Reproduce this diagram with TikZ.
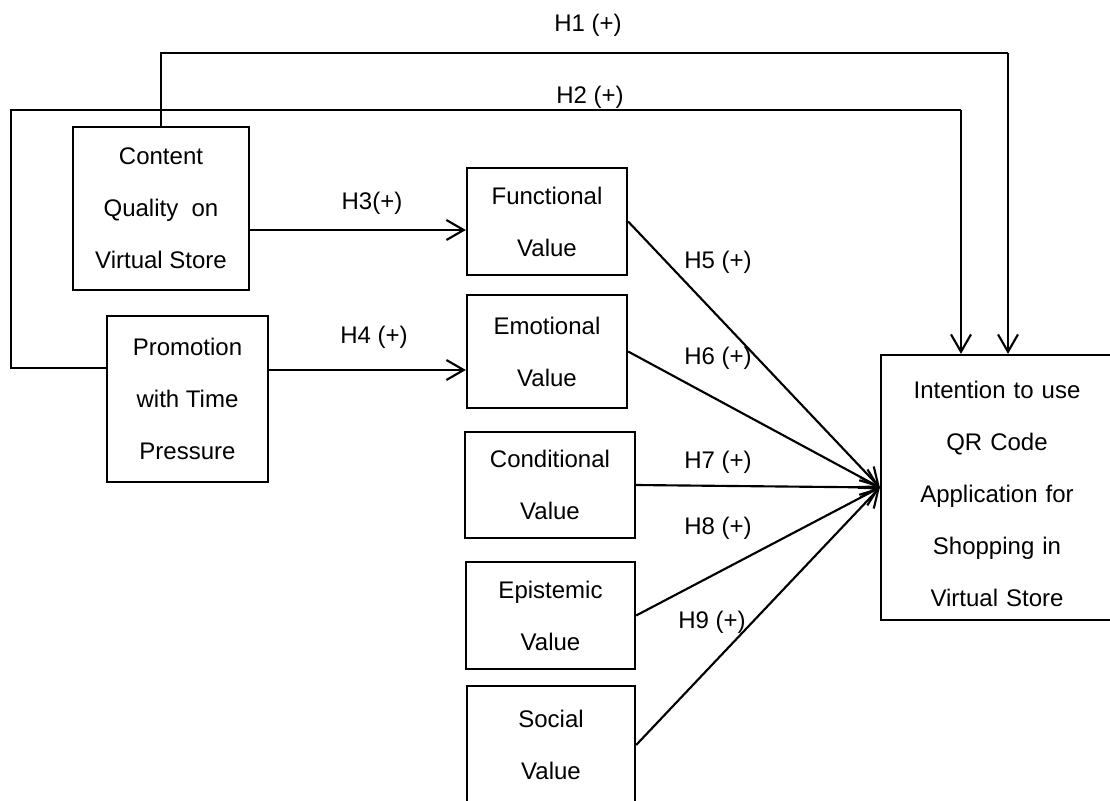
\documentclass[tikz,border=0pt]{standalone}
\usepackage{fontspec}
\setmainfont{Liberation Sans}
\usetikzlibrary{arrows.meta,calc}
\begin{document}
\begin{tikzpicture}[x=0.75pt,y=-0.75pt,
    box/.style={draw, line width=1.7pt, inner sep=0pt, align=center,
      font=\fontsize{18}{39}\selectfont,
      execute at begin node={\rule{0pt}{23pt}}},
    hyp/.style={font=\fontsize{18}{22}\selectfont, inner sep=0pt},
    arr/.style={line width=1.6pt, -{Straight Barb[length=13pt,width=15pt]}},
    link/.style={line width=1.2pt}]
  \useasboundingbox (0,0) rectangle (1110,800);
  \clip (0,0) rectangle (1110,800);
  % boxes
  \node[box, minimum width=132pt, minimum height=122.25pt] (cq) at (161,208.5) {Content\\Quality~~on\\Virtual Store};
  \node[box, minimum width=120.75pt, minimum height=124.5pt] (ptp) at (187.5,399) {Promotion\\with Time\\Pressure};
  \node[box, minimum width=120pt, minimum height=80.25pt] (fv) at (547,221.5) {Functional\\Value};
  \node[box, minimum width=120pt, minimum height=84.75pt] (ev) at (547,351.5) {Emotional\\Value};
  \node[box, minimum width=127.5pt, minimum height=79.5pt] (cv) at (550,485) {Conditional\\Value};
  \node[box, minimum width=126.75pt, minimum height=80.25pt] (epv) at (550.5,615.5) {Epistemic\\Value};
  \node[box, minimum width=126pt, minimum height=88.5pt] (sv) at (551,745) {Social\\Value};
  \node[box, minimum width=174pt, minimum height=198.75pt, text width=160pt] (iu) at (997,487.5) {Intention to use\\QR Code\\Application for\\Shopping in\\Virtual Store};
  % labels
  \node[hyp] (l1) at (588,25) {H1 (+)};
  \node[hyp] (l2) at (590,97) {H2 (+)};
  \node[hyp] (l3) at (372,203) {H3(+)};
  \node[hyp] (l4) at (374,337) {H4 (+)};
  \node[hyp] (l5) at (718,262) {H5 (+)};
  \node[hyp] (l6) at (718,358) {H6 (+)};
  \node[hyp] (l7) at (718,462) {H7 (+)};
  \node[hyp] (l8) at (718,528) {H8 (+)};
  \node[hyp] (l9) at (712,622) {H9 (+)};
  % long paths
  \coordinate (h1r) at (1008,53);
  \coordinate (h2l) at (11,110);
  \coordinate (h2r) at (961,110);
  \draw[link] (cq.north) |- (h1r);
  \draw[arr] (h1r) -- (h1r |- iu.north);
  \draw[link] ($(ptp.north west)+(0,53)$) -| (h2l) -- (h2r);
  \draw[arr] (h2r) -- (h2r |- iu.north);
  % straight arrows
  \coordinate (h3) at (0,230);
  \coordinate (h4) at (0,370);
  \draw[arr] (cq.east |- h3) -- (fv.west |- h3);
  \draw[arr] (ptp.east |- h4) -- (ev.west |- h4);
  \draw[arr] (fv.east) -- (iu.west);
  \draw[arr] (ev.east) -- (iu.west);
  \draw[arr] (cv.east) -- (iu.west);
  \draw[arr] (epv.east) -- (iu.west);
  \draw[arr] (sv.east) -- (iu.west);
\end{tikzpicture}
\end{document}
